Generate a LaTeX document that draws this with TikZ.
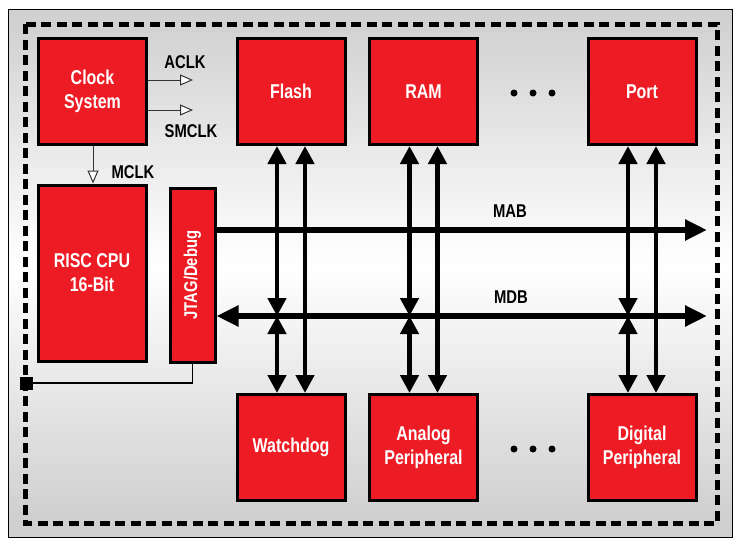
\documentclass[tikz,border=0pt]{standalone}
\usepackage{fontspec}
\setmainfont{Liberation Sans}[FakeStretch=0.8]
\usetikzlibrary{arrows.meta}
\definecolor{boxred}{HTML}{ED1C24}
\definecolor{panelgray}{HTML}{CFCFCF}

\begin{document}
\begin{tikzpicture}[x=1pt,y=-1pt,
  unit/.style={draw=black,line width=3pt,fill=boxred,text=white,align=center,inner sep=0pt,
    font=\fontsize{20}{24}\selectfont\bfseries,minimum width=108pt,minimum height=106pt},
  lbl/.style={font=\fontsize{18.5}{20}\selectfont\bfseries},
  clkarrow/.style={draw=black!80,line width=1pt,-{Triangle[length=13pt,width=11pt,fill=white]}},
  bus/.style={line width=6pt,-{Triangle[length=22pt,width=20pt]}},
  link/.style={line width=4.5pt,{Triangle[length=18pt,width=18pt]}-{Triangle[length=18pt,width=18pt]}},
  dot/.style={circle,fill=black,inner sep=0pt,minimum size=7pt}]

\useasboundingbox (0,0) rectangle (748,549);
% background panel, light in the middle
\foreach \i in {0,...,65} {
  \pgfmathtruncatemacro\p{max(0,100-100*abs(\i-31.5)/32)}
  \fill[white!\p!panelgray] (8,9+8*\i) rectangle (732,17.5+8*\i);
}
\draw[line width=0.8pt] (8,9) rectangle (732,537);
\draw[line width=5pt,dash pattern=on 10pt off 5.5pt] (25,24) rectangle (717,523);

\node[unit] (clk) at (92.5,91.5) {Clock\\System};
\node[unit,minimum height=176pt] (cpu) at (92,273) {RISC CPU\\16-Bit};
\node[unit,minimum width=45pt,minimum height=174pt] (jtag) at (192.5,275) {};
\node[rotate=90,text=white,font=\fontsize{18.5}{20}\selectfont\bfseries] (jtagtxt) at (jtag) {JTAG/Debug};

\node[unit] (flash) at (291,91.5) {Flash};
\node[unit] (ram) at (423.5,91.5) {RAM};
\node[unit] (port) at (642,91.5) {Port};
\node[unit] (wdog) at (291,447.5) {Watchdog};
\node[unit] (analog) at (423.5,447.5) {Analog\\Peripheral};
\node[unit] (digital) at (642,447.5) {Digital\\Peripheral};

\node[dot] (d1) at (514,93) {};
\node[dot] (d2) at (533,93) {};
\node[dot] (d3) at (552,93) {};
\node[dot] (d4) at (514,449) {};
\node[dot] (d5) at (533,449) {};
\node[dot] (d6) at (552,449) {};

% clocks
\coordinate (aclk) at (193,80);
\coordinate (smclk) at (193,110);
\draw[clkarrow] (clk.east |- aclk) -- (aclk);
\draw[clkarrow] (clk.east |- smclk) -- (smclk);
\draw[clkarrow] (clk.south -| 93,0) -- (cpu.north -| 93,0);
\node[lbl] (aclklbl) at (185,62) {ACLK};
\node[lbl] (smclklbl) at (191,131) {SMCLK};
\node[lbl] (mclklbl) at (133,172) {MCLK};

% buses
\coordinate (mab) at (707,230);
\coordinate (mdb) at (707,316);
\draw[bus] (jtag.east |- mab) -- (mab);
\draw[bus,{Triangle[length=22pt,width=20pt]}-{Triangle[length=22pt,width=20pt]}] (jtag.east |- mdb) -- (mdb);
\node[lbl] (mablbl) at (510,211) {MAB};
\node[lbl] (mdblbl) at (511,297) {MDB};

\draw[link] ([xshift=-14pt]flash.south) -- ([xshift=-14pt]flash.south |- mdb);
\draw[link] ([xshift=-14pt]wdog.north |- mdb) -- ([xshift=-14pt]wdog.north);
\draw[link] ([xshift=14pt]flash.south) -- ([xshift=14pt]wdog.north);
\draw[link] ([xshift=-14pt]ram.south) -- ([xshift=-14pt]ram.south |- mdb);
\draw[link] ([xshift=-14pt]analog.north |- mdb) -- ([xshift=-14pt]analog.north);
\draw[link] ([xshift=14pt]ram.south) -- ([xshift=14pt]analog.north);
\draw[link] ([xshift=-14pt]port.south) -- ([xshift=-14pt]port.south |- mdb);
\draw[link] ([xshift=-14pt]digital.north |- mdb) -- ([xshift=-14pt]digital.north);
\draw[link] ([xshift=14pt]port.south) -- ([xshift=14pt]digital.north);

% debug port
\node[fill=black,inner sep=0pt,minimum size=13pt] (pin) at (26,383) {};
\draw[line width=1.5pt] (jtag.south) |- (pin);

\end{tikzpicture}
\end{document}
